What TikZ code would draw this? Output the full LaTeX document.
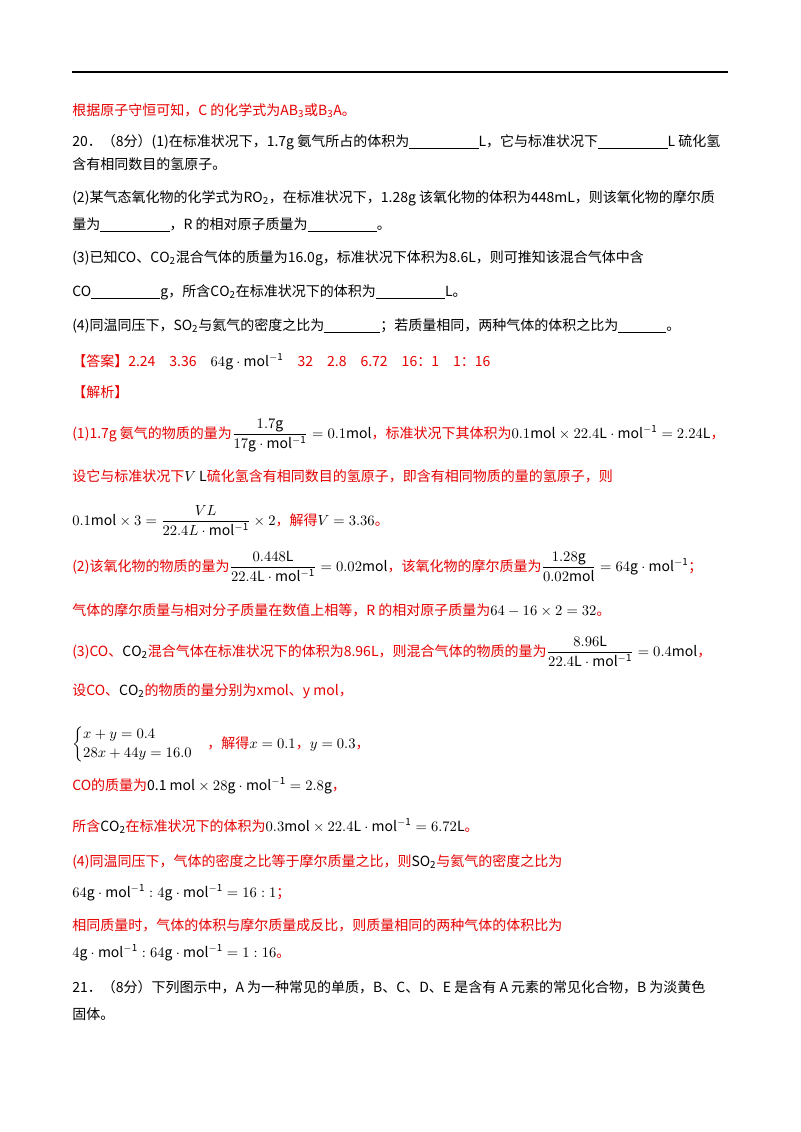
\documentclass[tikz,border=0pt]{standalone}
\usepackage{fontspec}
\usepackage{amsmath}
\setmainfont{Noto Sans CJK SC}
\newfontfamily\lat{Liberation Serif}
\definecolor{ans}{RGB}{230,0,0}
\newcommand\blank[1]{\underline{\hspace{#1}}}
\newcommand\mm{\mathrm}
\begin{document}
\begin{tikzpicture}[x=0.75pt,y=-0.75pt,
 t/.style={anchor=base west,inner sep=0pt,font=\fontsize{10.5}{12}\selectfont},
 r/.style={t,text=ans}]
\useasboundingbox (0,0) rectangle (800,1132);
\draw[line width=1.2pt] (72,72) -- (728,72);
\node[r] (l1) at (72,115) {根据原子守恒可知，C 的化学式为$\mm{AB_3}$或$\mm{B_3A}$。};
\node[t] (l2) at (72,146) {20．（8分）(1)在标准状况下，1.7g 氨气所占的体积为\blank{52pt}L，它与标准状况下\blank{52pt}L 硫化氢};
\node[t] (l3) at (72,169) {含有相同数目的氢原子。};
\node[t] (l4) at (72,202) {(2)某气态氧化物的化学式为$\mm{RO_2}$，在标准状况下，1.28g 该氧化物的体积为448mL，则该氧化物的摩尔质};
\node[t] (l5) at (72,229) {量为\blank{52pt}，R 的相对原子质量为\blank{52pt}。};
\node[t] (l6) at (72,262) {(3)已知CO、$\mm{CO_2}$混合气体的质量为16.0g，标准状况下体积为8.6L，则可推知该混合气体中含};
\node[t] (l7) at (72,296) {CO\blank{52pt}g，所含$\mm{CO_2}$在标准状况下的体积为\blank{52pt}L。};
\node[t] (l8) at (72,330) {(4)同温同压下，$\mm{SO_2}$与氦气的密度之比为\blank{42pt}；若质量相同，两种气体的体积之比为\blank{36pt}。};
\node[r] (l9) at (72,366) {【答案】2.24\quad 3.36\quad \textcolor{black}{$64\mm{g\cdot mol^{-1}}$}\quad 32\quad 2.8\quad 6.72\quad 16：1\quad 1：16};
\node[r] (l10) at (72,397) {【解析】};
\node[r] (l11) at (72,438) {(1)1.7g 氨气的物质的量为\textcolor{black}{$\dfrac{1.7\mm{g}}{17\mm{g\cdot mol^{-1}}}=0.1\mm{mol}$}，标准状况下其体积为\textcolor{black}{$0.1\mm{mol}\times22.4\mm{L\cdot mol^{-1}}=2.24\mm{L}$}，};
\node[r] (l12) at (72,481) {设它与标准状况下\textcolor{black}{$V$ L}硫化氢含有相同数目的氢原子，即含有相同物质的量的氢原子，则};
\node[r] (l13) at (72,525) {\textcolor{black}{$0.1\mm{mol}\times3=\dfrac{VL}{22.4L\cdot\mm{mol^{-1}}}\times2$}，解得\textcolor{black}{$V=3.36$}。};
\node[r] (l14) at (72,571) {(2)该氧化物的物质的量为\textcolor{black}{$\dfrac{0.448\mm{L}}{22.4\mm{L\cdot mol^{-1}}}=0.02\mm{mol}$}，该氧化物的摩尔质量为\textcolor{black}{$\dfrac{1.28\mm{g}}{0.02\mm{mol}}=64\mm{g\cdot mol^{-1}}$}；};
\node[r] (l15) at (72,615) {气体的摩尔质量与相对分子质量在数值上相等，R 的相对原子质量为\textcolor{black}{$64-16\times2=32$}。};
\node[r] (l16) at (72,656) {(3)CO、\textcolor{black}{$\mm{CO_2}$}混合气体在标准状况下的体积为8.96L，则混合气体的物质的量为\textcolor{black}{$\dfrac{8.96\mm{L}}{22.4\mm{L\cdot mol^{-1}}}=0.4\mm{mol}$}，};
\node[r] (l17) at (72,695) {设CO、\textcolor{black}{$\mm{CO_2}$}的物质的量分别为xmol、y mol，};
\node[r] (l18) at (72,748) {\textcolor{black}{$\begin{cases}x+y=0.4\\28x+44y=16.0\end{cases}$}，解得\textcolor{black}{$x=0.1$}，\textcolor{black}{$y=0.3$}，};
\node[r] (l19) at (72,790) {CO的质量为\textcolor{black}{0.1 $\mm{mol}\times28\mm{g\cdot mol^{-1}}=2.8\mm{g}$}，};
\node[r] (l20) at (72,831) {所含\textcolor{black}{$\mm{CO_2}$}在标准状况下的体积为\textcolor{black}{$0.3\mm{mol}\times22.4\mm{L\cdot mol^{-1}}=6.72\mm{L}$}。};
\node[r] (l21) at (72,866) {(4)同温同压下，气体的密度之比等于摩尔质量之比，则\textcolor{black}{$\mm{SO_2}$}与氦气的密度之比为};
\node[r] (l22) at (72,897) {\textcolor{black}{$64\mm{g\cdot mol^{-1}}:4\mm{g\cdot mol^{-1}}=16:1$}；};
\node[r] (l23) at (72,930) {相同质量时，气体的体积与摩尔质量成反比，则质量相同的两种气体的体积比为};
\node[r] (l24) at (72,957) {\textcolor{black}{$4\mm{g\cdot mol^{-1}}:64\mm{g\cdot mol^{-1}}=1:16$}。};
\node[t] (l25) at (72,992) {21．（8分）下列图示中，A 为一种常见的单质，B、C、D、E 是含有 A 元素的常见化合物，B 为淡黄色};
\node[t] (l26) at (72,1019) {固体。};
\end{tikzpicture}
\end{document}
